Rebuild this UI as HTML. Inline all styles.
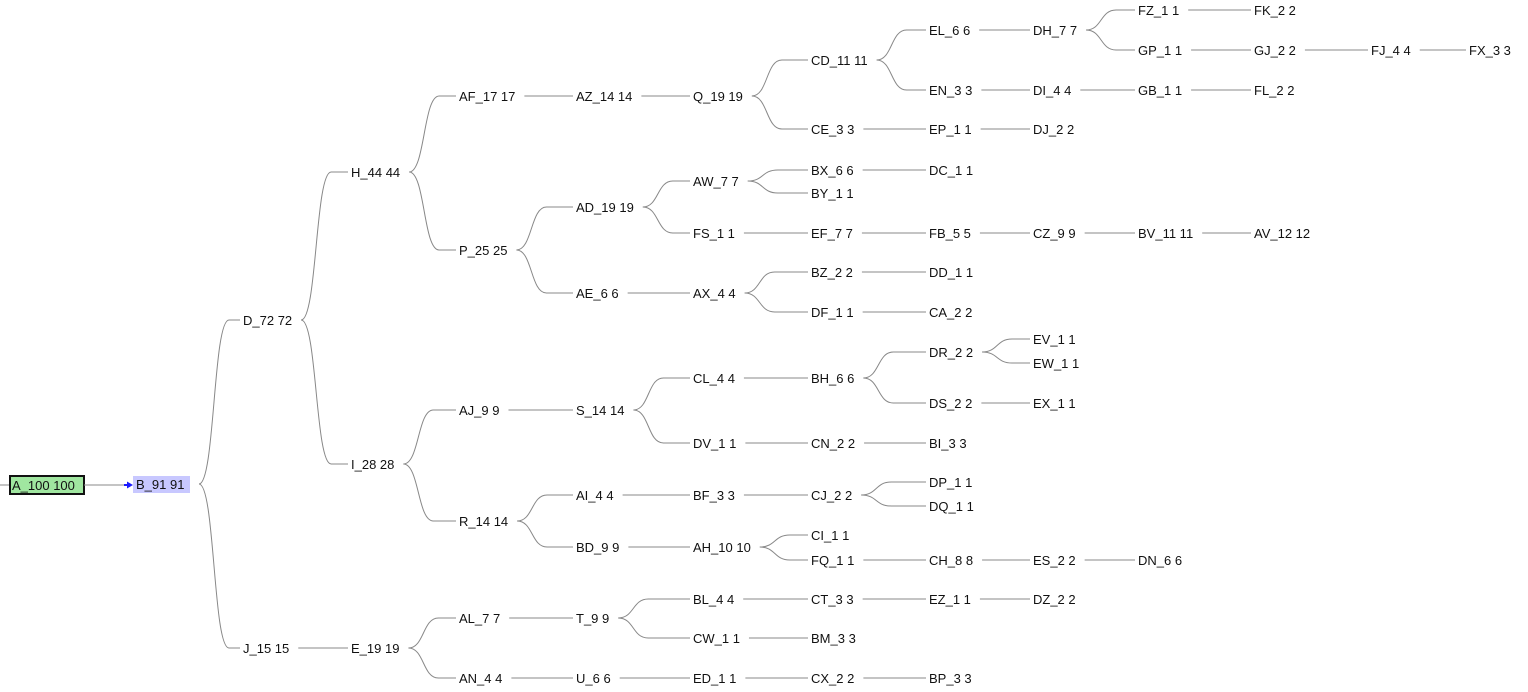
<!DOCTYPE html>
<html><head><meta charset="utf-8">
<style>
html,body{margin:0;padding:0;background:#fff;width:1528px;height:692px;overflow:hidden}
svg{display:block}
text{font-family:"Liberation Sans",Arial,sans-serif;font-size:13px;fill:#111}
</style></head>
<body>
<svg id="s" width="1528" height="692" xmlns="http://www.w3.org/2000/svg">
<line x1="0" y1="485" x2="10" y2="485" stroke="#888" stroke-width="1"/>
<rect x="10" y="476" width="74" height="18" fill="#a0e6a0" stroke="#111" stroke-width="2"/>
<rect x="133" y="476" width="57" height="17" fill="#c8c8ff"/>
<line x1="84" y1="485" x2="126" y2="485" stroke="#888" stroke-width="1"/>
<line x1="124" y1="485" x2="129" y2="485" stroke="#1a1aff" stroke-width="2"/>
<polygon points="133,485 127,481.5 127,488.5" fill="#1a1aff"/>
<g id="lines" fill="none" stroke="#888" stroke-width="1"></g>
<g id="labels"></g>
</svg>
<script>
var N=[
["A","A_100 100",12,485,null],
["B","B_91 91",136,484,"A"],
["D","D_72 72",243,320,"B"],
["J","J_15 15",243,648,"B"],
["H","H_44 44",351,172,"D"],
["I","I_28 28",351,464,"D"],
["AF","AF_17 17",459,96,"H"],
["P","P_25 25",459,250,"H"],
["AJ","AJ_9 9",459,410,"I"],
["R","R_14 14",459,521,"I"],
["E","E_19 19",351,648,"J"],
["AZ","AZ_14 14",576,96,"AF"],
["Q","Q_19 19",693,96,"AZ"],
["CD","CD_11 11",811,60,"Q"],
["CE","CE_3 3",811,129,"Q"],
["EL","EL_6 6",929,30,"CD"],
["EN","EN_3 3",929,90,"CD"],
["DH","DH_7 7",1033,30,"EL"],
["FZ","FZ_1 1",1138,10,"DH"],
["GP","GP_1 1",1138,50,"DH"],
["FK","FK_2 2",1254,10,"FZ"],
["GJ","GJ_2 2",1254,50,"GP"],
["FJ","FJ_4 4",1371,50,"GJ"],
["FX","FX_3 3",1469,50,"FJ"],
["DI","DI_4 4",1033,90,"EN"],
["GB","GB_1 1",1138,90,"DI"],
["FL","FL_2 2",1254,90,"GB"],
["EP","EP_1 1",929,129,"CE"],
["DJ","DJ_2 2",1033,129,"EP"],
["AD","AD_19 19",576,207,"P"],
["AE","AE_6 6",576,293,"P"],
["AW","AW_7 7",693,181,"AD"],
["FS","FS_1 1",693,233,"AD"],
["BX","BX_6 6",811,170,"AW"],
["BY","BY_1 1",811,193,"AW"],
["DC","DC_1 1",929,170,"BX"],
["EF","EF_7 7",811,233,"FS"],
["FB","FB_5 5",929,233,"EF"],
["CZ","CZ_9 9",1033,233,"FB"],
["BV","BV_11 11",1138,233,"CZ"],
["AV","AV_12 12",1254,233,"BV"],
["AX","AX_4 4",693,293,"AE"],
["BZ","BZ_2 2",811,272,"AX"],
["DF","DF_1 1",811,312,"AX"],
["DD","DD_1 1",929,272,"BZ"],
["CA","CA_2 2",929,312,"DF"],
["S","S_14 14",576,410,"AJ"],
["CL","CL_4 4",693,378,"S"],
["DV","DV_1 1",693,443,"S"],
["BH","BH_6 6",811,378,"CL"],
["DR","DR_2 2",929,352,"BH"],
["DS","DS_2 2",929,403,"BH"],
["EV","EV_1 1",1033,339,"DR"],
["EW","EW_1 1",1033,363,"DR"],
["EX","EX_1 1",1033,403,"DS"],
["CN","CN_2 2",811,443,"DV"],
["BI","BI_3 3",929,443,"CN"],
["AI","AI_4 4",576,495,"R"],
["BD","BD_9 9",576,547,"R"],
["BF","BF_3 3",693,495,"AI"],
["CJ","CJ_2 2",811,495,"BF"],
["DP","DP_1 1",929,482,"CJ"],
["DQ","DQ_1 1",929,506,"CJ"],
["AH","AH_10 10",693,547,"BD"],
["CI","CI_1 1",811,535,"AH"],
["FQ","FQ_1 1",811,560,"AH"],
["CH","CH_8 8",929,560,"FQ"],
["ES","ES_2 2",1033,560,"CH"],
["DN","DN_6 6",1138,560,"ES"],
["AL","AL_7 7",459,618,"E"],
["AN","AN_4 4",459,678,"E"],
["T","T_9 9",576,618,"AL"],
["BL","BL_4 4",693,599,"T"],
["CW","CW_1 1",693,638,"T"],
["CT","CT_3 3",811,599,"BL"],
["EZ","EZ_1 1",929,599,"CT"],
["DZ","DZ_2 2",1033,599,"EZ"],
["BM","BM_3 3",811,638,"CW"],
["U","U_6 6",576,678,"AN"],
["ED","ED_1 1",693,678,"U"],
["CX","CX_2 2",811,678,"ED"],
["BP","BP_3 3",929,678,"CX"]
];
var NS="http://www.w3.org/2000/svg";
var L=document.getElementById("labels"),G=document.getElementById("lines");
var M={};
N.forEach(function(n){
 var t=document.createElementNS(NS,"text");
 t.setAttribute("x",n[2]);t.setAttribute("y",n[3]+5);
 t.textContent=n[1];L.appendChild(t);
 M[n[0]]={x:n[2],y:n[3],end:n[2]+t.getComputedTextLength()};
});
M["B"].end=190;
N.forEach(function(n){
 if(!n[4]||n[0]=="B")return;
 var p=M[n[4]],c=M[n[0]];
 var s=p.end+9,py=p.y,cy=c.y,d;
 if(Math.abs(py-cy)<1){d="M"+s+","+py+" H"+(c.x-3);}
 else{d="M"+s+","+py+" C"+(s+16)+","+py+" "+(s+14)+","+cy+" "+(s+30)+","+cy+" H"+(c.x-3);}
 var pa=document.createElementNS(NS,"path");pa.setAttribute("d",d);G.appendChild(pa);
});
</script>
</body></html>
